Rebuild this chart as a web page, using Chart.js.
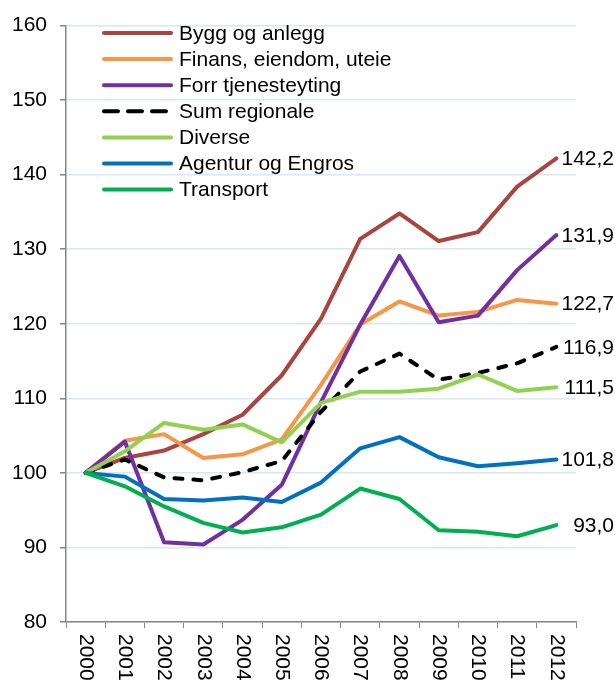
<!DOCTYPE html>
<html lang="no">
<head>
<meta charset="UTF-8">
<title>Indeks 2000 = 100</title>
<script src="https://cdn.jsdelivr.net/npm/chart.js"></script>
<style>
    body { margin: 0; background: #fff; }
    #wrap { width: 615px; height: 681px; }
</style>
</head>
<body>
<div id="wrap"><canvas id="chart" width="615" height="681"></canvas></div>
<script>
const years = ['2000', '2001', '2002', '2003', '2004', '2005', '2006', '2007', '2008', '2009', '2010', '2011', '2012'];

const bygg      = [100, 102.0, 103.0, 105.2, 107.8, 113.1, 120.7, 131.4, 134.8, 131.1, 132.3, 138.4, 142.2];
const finans    = [100, 104.3, 105.2, 102.0, 102.5, 104.5, 111.8, 119.9, 123.0, 121.1, 121.6, 123.2, 122.7];
const forr      = [100, 104.2, 90.7, 90.4, 93.7, 98.4, 109.5, 119.9, 129.1, 120.2, 121.1, 127.2, 131.9];
const sumReg    = [100, 101.8, 99.4, 99.0, 100.1, 101.6, 108.2, 113.6, 116.0, 112.5, 113.4, 114.7, 116.9];
const diverse   = [100, 102.9, 106.7, 105.8, 106.5, 104.1, 109.4, 110.9, 110.9, 111.3, 113.2, 111.0, 111.5];
const agentur   = [100, 99.5, 96.5, 96.3, 96.7, 96.1, 98.7, 103.3, 104.8, 102.1, 100.9, 101.3, 101.8];
const transport = [100, 98.2, 95.5, 93.3, 92.0, 92.7, 94.4, 97.9, 96.5, 92.3, 92.1, 91.5, 93.0];

const seriesNames = ['Bygg og anlegg', 'Finans, eiendom, uteie', 'Forr tjenesteyting', 'Sum regionale', 'Diverse', 'Agentur og Engros', 'Transport'];
const seriesData = [bygg, finans, forr, sumReg, diverse, agentur, transport];
const seriesColors = ['#a9443e', '#f79646', '#7030a0', '#000000', '#92d050', '#0070c0', '#00b050'];

const yTicks = [80, 90, 100, 110, 120, 130, 140, 150, 160];

const FONT = "'Liberation Sans', Arial, sans-serif";
const FSIZE = 21;

const datasets = seriesNames.map((name, i) => ({
    label: name,
    data: seriesData[i],
    borderColor: seriesColors[i],
    backgroundColor: seriesColors[i],
    borderWidth: 4,
    borderDash: name === 'Sum regionale' ? [8, 11] : [],
    borderCapStyle: 'round',
    borderJoinStyle: 'round',
    pointRadius: 0,
    tension: 0,
    fill: false,
    order: seriesNames.length - i
}));

// legend drawn inside the plot, top left
const insideLegend = {
    id: 'insideLegend',
    afterDraw(chart) {
        const ctx = chart.ctx;
        ctx.save();
        ctx.font = FSIZE + 'px ' + FONT;
        ctx.textBaseline = 'middle';
        ctx.textAlign = 'left';
        seriesNames.forEach((name, i) => {
            const y = 33 + i * 26.1;
            ctx.beginPath();
            ctx.strokeStyle = seriesColors[i];
            ctx.lineWidth = 4;
            ctx.lineCap = 'round';
            ctx.setLineDash(name === 'Sum regionale' ? [14, 10] : []);
            ctx.moveTo(104, y);
            ctx.lineTo(171, y);
            ctx.stroke();
            ctx.setLineDash([]);
            ctx.fillStyle = '#000';
            ctx.fillText(name, 179, y + 1);
        });
        ctx.restore();
    }
};

// value label at the end of each line
const endLabels = {
    id: 'endLabels',
    afterDatasetsDraw(chart) {
        const ctx = chart.ctx;
        ctx.save();
        ctx.font = FSIZE + 'px ' + FONT;
        ctx.fillStyle = '#000';
        ctx.textAlign = 'right';
        ctx.textBaseline = 'middle';
        chart.data.datasets.forEach((ds, i) => {
            const meta = chart.getDatasetMeta(i);
            const last = meta.data[meta.data.length - 1];
            const v = ds.data[ds.data.length - 1];
            ctx.fillText(v.toFixed(1).replace('.', ','), 614, last.y + 1);
        });
        ctx.restore();
    }
};

// year labels rotated to read top-down
const yearLabels = {
    id: 'yearLabels',
    afterDraw(chart) {
        const ctx = chart.ctx;
        const xs = chart.scales.x;
        ctx.save();
        ctx.font = FSIZE + 'px ' + FONT;
        ctx.fillStyle = '#000';
        ctx.textAlign = 'left';
        ctx.textBaseline = 'middle';
        years.forEach((yr, i) => {
            const x = xs.getPixelForValue(i);
            ctx.save();
            ctx.translate(x, chart.chartArea.bottom + 12);
            ctx.rotate(Math.PI / 2);
            ctx.fillText(yr, 0, 0);
            ctx.restore();
        });
        ctx.restore();
    }
};

new Chart(document.getElementById('chart'), {
    type: 'line',
    data: { labels: years, datasets: datasets },
    options: {
        responsive: false,
        animation: false,
        devicePixelRatio: 1,
        layout: { padding: { top: 24, right: 39, left: 0, bottom: 0 } },
        plugins: {
            legend: { display: false },
            tooltip: { enabled: false }
        },
        scales: {
            x: {
                offset: true,
                grid: {
                    offset: true,
                    drawOnChartArea: false,
                    drawTicks: true,
                    tickLength: 6,
                    color: '#868686'
                },
                border: { color: '#868686', width: 1.5 },
                ticks: { display: false },
                afterFit(scale) { scale.height = 59; }
            },
            y: {
                min: 80,
                max: 160,
                afterBuildTicks(scale) { scale.ticks = yTicks.map(v => ({ value: v })); },
                grid: {
                    color: '#dce6f2',
                    lineWidth: 1.5,
                    tickColor: '#868686',
                    tickLength: 6
                },
                border: { color: '#868686', width: 1.5 },
                ticks: {
                    color: '#000',
                    padding: 13,
                    font: { family: FONT, size: FSIZE }
                },
                afterFit(scale) { scale.width = 66; }
            }
        }
    },
    plugins: [insideLegend, endLabels, yearLabels]
});
</script>
</body>
</html>
